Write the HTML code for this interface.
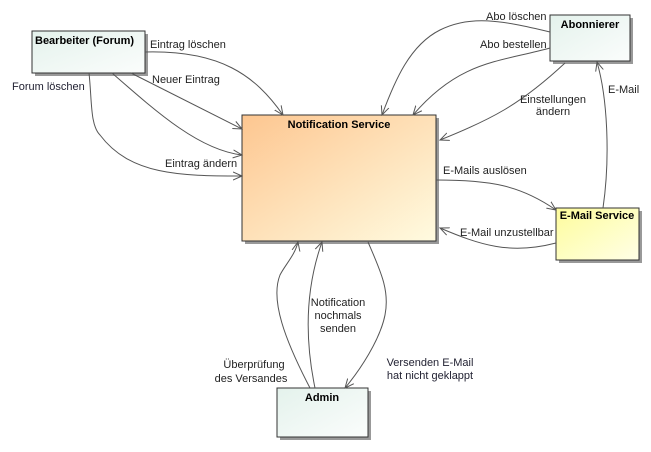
<!DOCTYPE html>
<html><head><meta charset="utf-8"><style>
body{margin:0;background:#fff;width:651px;height:447px;overflow:hidden;font-family:"Liberation Sans",sans-serif}
</style></head><body>
<svg width="651" height="447" xmlns="http://www.w3.org/2000/svg" font-family="Liberation Sans, sans-serif" font-size="11">
<defs>
<linearGradient id="g1" x1="0" y1="0" x2="1" y2="1"><stop offset="0" stop-color="#e4f2ec"/><stop offset="1" stop-color="#fbfdfc"/></linearGradient>
<linearGradient id="g2" x1="0" y1="0" x2="1" y2="1"><stop offset="0" stop-color="#fdc690"/><stop offset="1" stop-color="#fffbe0"/></linearGradient>
<linearGradient id="g3" x1="0" y1="0" x2="1" y2="1"><stop offset="0" stop-color="#fefc9c"/><stop offset="1" stop-color="#ffffe6"/></linearGradient>
<marker id="a" markerWidth="10" markerHeight="10" refX="9" refY="5" orient="auto" markerUnits="userSpaceOnUse"><path d="M0,1 L9,5 L0,9" fill="none" stroke="#555" stroke-width="1"/></marker>
</defs>
<g fill="#999"><rect x="35" y="34" width="113" height="42"/><rect x="245" y="118" width="194" height="126"/><rect x="553" y="18" width="80" height="46"/><rect x="559" y="211" width="83" height="52"/><rect x="280" y="391" width="91" height="49"/></g>
<rect x="32" y="31" width="113" height="42" fill="url(#g1)" stroke="#333"/>
<rect x="242" y="115" width="194" height="126" fill="url(#g2)" stroke="#333"/>
<rect x="550" y="15" width="80" height="46" fill="url(#g1)" stroke="#333"/>
<rect x="556" y="208" width="83" height="52" fill="url(#g3)" stroke="#333"/>
<rect x="277" y="388" width="91" height="49" fill="url(#g1)" stroke="#333"/>
<g font-weight="bold" font-size="11">
<text x="35" y="44">Bearbeiter (Forum)</text>
<text x="339" y="128" text-anchor="middle">Notification Service</text>
<text x="590" y="28" text-anchor="middle">Abonnierer</text>
<text x="597" y="219" text-anchor="middle">E-Mail Service</text>
<text x="322" y="401" text-anchor="middle">Admin</text>
</g>
<g fill="none" stroke="#555" stroke-width="1" marker-end="url(#a)">
<path d="M145,52 C220,50 255,75 283,115"/>
<path d="M131,73 L242,129"/>
<path d="M112,73 C160,115 200,150 242,155"/>
<path d="M89,73 C92,100 90,125 100,135 C130,175 180,176 242,176"/>
<path d="M550,32 C500,20 470,15 440,30 C410,45 395,80 382,115"/>
<path d="M550,48 C500,62 460,60 413,115"/>
<path d="M565,63 C520,105 490,120 440,140"/>
<path d="M436,180 C490,180 520,185 556,210"/>
<path d="M556,243 C510,255 480,245 440,228"/>
<path d="M603,208 C610,160 608,100 597,62"/>
<path d="M310,388 C285,340 270,300 280,275 C285,265 295,255 298,242"/>
<path d="M315,388 C305,340 305,290 322,242"/>
<path d="M368,242 C380,270 390,290 385,315 C380,340 360,370 345,388"/>
</g>
<g fill="#222">
<text x="150" y="48">Eintrag löschen</text>
<text x="152" y="83">Neuer Eintrag</text>
<text x="12" y="90" fill="#223">Forum löschen</text>
<text x="165" y="167">Eintrag ändern</text>
<text x="486" y="20">Abo löschen</text>
<text x="480" y="48">Abo bestellen</text>
<text x="553" y="103" text-anchor="middle">Einstellungen</text>
<text x="553" y="115" text-anchor="middle">ändern</text>
<text x="443" y="174">E-Mails auslösen</text>
<text x="460" y="236">E-Mail unzustellbar</text>
<text x="608" y="93">E-Mail</text>
<text x="254" y="368" text-anchor="middle">Überprüfung</text>
<text x="251" y="382" text-anchor="middle">des Versandes</text>
<text x="338" y="306" text-anchor="middle">Notification</text>
<text x="338" y="319" text-anchor="middle">nochmals</text>
<text x="338" y="332" text-anchor="middle">senden</text>
<text x="430" y="366" text-anchor="middle" fill="#223">Versenden E-Mail</text>
<text x="430" y="379" text-anchor="middle" fill="#223">hat nicht geklappt</text>
</g>
</svg>
</body></html>
